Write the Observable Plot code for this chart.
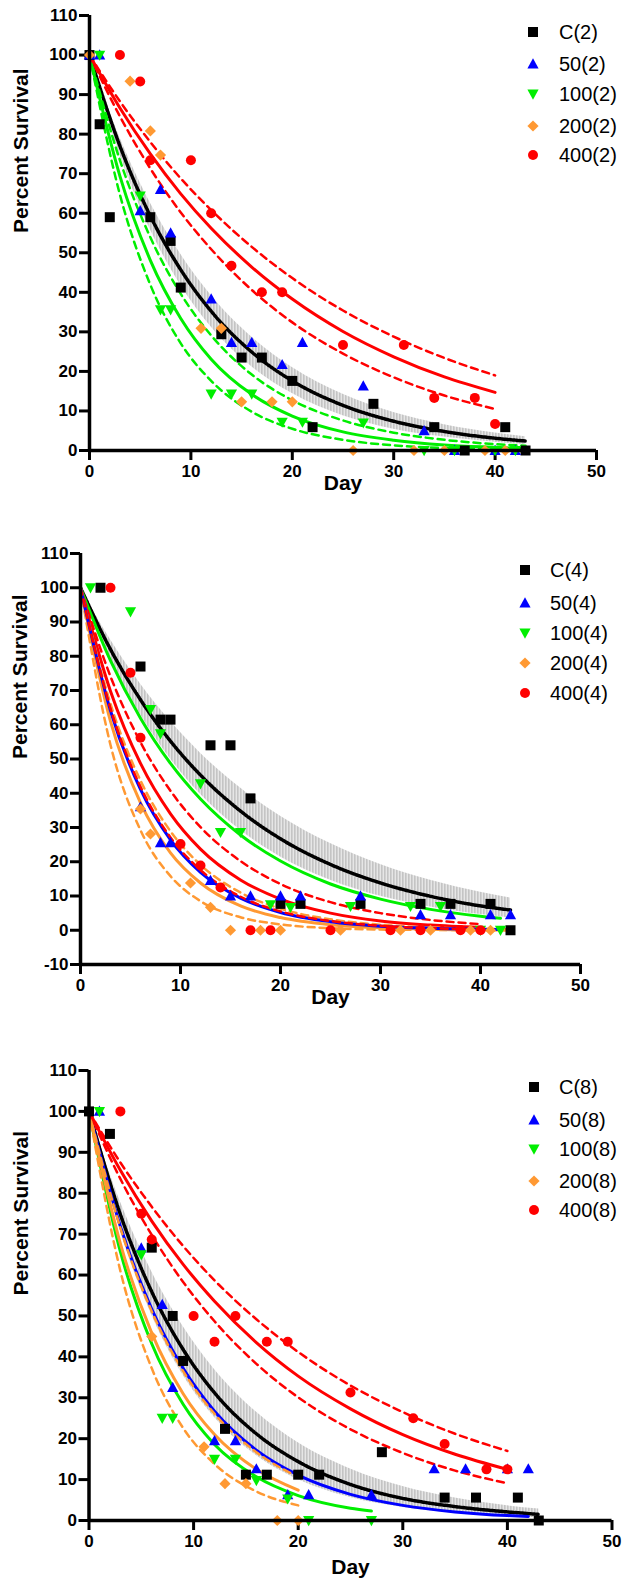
<!DOCTYPE html>
<html><head><meta charset="utf-8">
<script src="https://cdn.jsdelivr.net/npm/d3@7"></script>
<script src="https://cdn.jsdelivr.net/npm/@observablehq/plot@0.6"></script>
<style>
html,body{margin:0;padding:0;background:#fff;}
#wrap{position:relative;width:622px;}
#wrap svg.pl{display:block;}
svg.pl [aria-label$="tick"] path, svg.pl .tick line{stroke-width:3px;}
.lg{position:absolute;left:0;top:0;font-family:Arial,"Liberation Sans",sans-serif;font-size:20px;color:#000;}
.lg .row{position:absolute;height:0;}
.lg .row svg{position:absolute;top:-8px;}
.lg .row span{position:absolute;top:0;transform:translateY(-50%);line-height:1;white-space:nowrap;}
</style>
</head><body><div id="wrap"></div>
<script>
// ---------- series ----------
const seriesKeys = ["C", "50", "100", "200", "400"];
const seriesColors = ["#000000", "#0000ff", "#00ee00", "#ff9933", "#ff0000"];
const seriesSymbols = ["square", "up", "down", "diamond", "circle"];
const xTicks = [0, 10, 20, 30, 40, 50];
const yTicksA = [0, 10, 20, 30, 40, 50, 60, 70, 80, 90, 100, 110];
const yTicksB = [-10, 0, 10, 20, 30, 40, 50, 60, 70, 80, 90, 100, 110];

// ---------- panel 1 (2) data points [day, %] ----------
const p1_C = [[0,100],[1,82.5],[2,59],[6,59],[8,53],[9,41.2],[13,29.4],[15,23.5],[17,23.5],[20,17.6],[22,5.9],[28,11.8],[34,5.9],[37,0],[41,5.9],[43,0]];
const p1_50 = [[0,100],[1,100],[5,60.6],[7,66],[8,55],[12,38.3],[14,27.3],[16,27.3],[19,21.7],[21,27.3],[27,16.3],[33,5],[36,0],[40,0],[42,0]];
const p1_100 = [[1,100],[5,64.4],[7,35.6],[8,35.6],[12,14.3],[14,14.3],[16,14.3],[19,7.2],[21,7.2],[27,7],[33,0],[36,0],[40,0],[42,0]];
const p1_200 = [[0,100],[4,93.4],[6,80.8],[7,74.7],[11,30.9],[13,30.9],[15,12.3],[18,12.3],[20,12.3],[26,0],[32,0],[35,0],[39,0],[41,0]];
const p1_400 = [[3,100],[5,93.3],[6,73.4],[10,73.4],[12,60],[14,46.7],[17,40],[19,40],[25,26.7],[31,26.7],[34,13.3],[38,13.3],[40,6.7]];

// ---------- panel 2 (4) ----------
const p2_C = [[2,100],[6,77],[8,61.5],[9,61.5],[13,54],[15,54],[17,38.5],[20,7.7],[22,7.7],[28,7.7],[34,7.7],[37,7.7],[41,7.7],[43,0]];
const p2_50 = [[6,36],[8,25.5],[9,25.5],[13,14.5],[15,10],[17,10],[20,10],[22,10],[28,10],[34,4.5],[37,4.5],[41,4.5],[43,4.5]];
const p2_100 = [[1,100],[5,93],[7,64.5],[8,57.4],[12,42.8],[14,28.6],[16,28.6],[19,7.5],[21,6.7],[27,7],[33,7],[36,7],[40,0],[42,0]];
const p2_200 = [[6,35.4],[7,28.1],[11,13.8],[13,6.7],[15,0],[18,0],[20,0],[26,0],[32,0],[35,0],[39,0],[41,0]];
const p2_400 = [[3,100],[5,75.2],[6,56.2],[10,25.2],[12,18.9],[14,12.5],[17,0],[19,0],[25,0],[31,0],[34,0],[38,0],[40,0]];

// ---------- panel 3 (8) ----------
const p3_C = [[0,100],[2,94.5],[6,66.7],[8,50],[9,39],[13,22.4],[15,11.2],[17,11.2],[20,11.2],[22,11.2],[28,16.7],[34,5.6],[37,5.6],[41,5.6],[43,0]];
const p3_50 = [[1,100],[5,66.6],[7,52.8],[8,32.5],[12,19.5],[14,19.5],[16,12.6],[19,6.3],[21,6.3],[27,6.3],[33,12.6],[36,12.6],[40,12.6],[42,12.6]];
const p3_100 = [[1,100],[5,65],[7,25],[8,25],[12,15],[14,15],[16,9.8],[19,5.3],[21,0],[27,0]];
const p3_200 = [[6,45],[11,18],[13,9],[15,9],[18,0],[20,0]];
const p3_400 = [[3,100],[5,75],[6,68.7],[10,50],[12,43.7],[14,50],[17,43.7],[19,43.7],[25,31.3],[31,25],[34,18.7],[38,12.5],[40,12.5]];

// ---------- fitted curves, read at these days ----------
const fd43 = [0,3,6,9,12,16,20,25,30,35,40,43];
const fd42 = [0,3,6,9,12,16,20,25,30,35,40,42];
const fd40 = [0,3,6,9,12,16,20,25,30,35,40];
const fd27 = [0,3,6,9,12,16,20,25,27];
const fd20 = [0,3,6,9,12,16,20];

const p1_fitC = [100,77.0,59.3,45.7,35.2,24.9,17.6,11.4,7.4,4.8,3.1,2.4];
const p1_bandHi = [100,79.1,62.6,49.6,39.2,28.7,21.0,14.2,9.6,6.5,4.4,3.5];
const p1_bandLo = [100,74.8,55.9,41.8,31.2,21.2,14.4,8.8,5.4,3.4,2.1,1.5];
const p1_fit100 = [100,69.4,48.1,33.4,23.1,14.2,8.7,4.7,2.6,1.4,0.8,0.5];
const p1_fit100Hi = [100,73.4,53.9,39.6,29.1,19.2,12.7,7.6,4.5,2.7,1.6,1.2];
const p1_fit100Lo = [100,64.7,41.9,27.1,17.6,9.8,5.5,2.7,1.3,0.6,0.3,0.2];
const p1_fit400 = [100,86.6,75.0,64.9,56.2,46.4,38.3,30.1,23.7,18.6,14.7];
const p1_fit400Hi = [100,88.3,78.0,68.8,60.8,51.5,43.6,35.4,28.8,23.4,19.0];
const p1_fit400Lo = [100,84.5,71.3,60.2,50.9,40.6,32.4,24.5,18.5,13.9,10.5];

const p2_fitC = [100,82.0,67.3,55.2,45.3,34.8,26.7,19.2,13.8,9.9,7.1,5.9];
const p2_bandHi = [100,84.8,71.9,61.0,51.7,41.5,33.3,25.3,19.2,14.6,11.1,9.4];
const p2_bandLo = [100,79.4,63.0,50.0,39.7,29.2,21.4,14.6,9.9,6.8,4.6,3.6];
const p2_fit50 = [100,64.1,41.1,26.4,16.9,9.4,5.2,2.5,1.2,0.6,0.3,0.2];
const p2_fit100 = [100,78.7,61.9,48.7,38.3,27.8,20.2,13.5,9.1,6.1,4.1,3.5];
const p2_fit200 = [100,61.0,37.2,22.6,13.8,7.1,3.7,1.6,0.7,0.3,0.1,0.1];
const p2_fit200Hi = [100,66.1,43.7,28.9,19.1,11.0,6.3,3.2,1.6,0.8,0.4,0.3];
const p2_fit200Lo = [100,54.1,29.2,15.8,8.5,3.8,1.7,0.6,0.2,0.1,0,0];
const p2_fit400 = [100,69.8,48.7,34.0,23.7,14.7,9.1,5.0,2.7,1.5,0.8];
const p2_fit400Hi = [100,74.1,54.9,40.7,30.1,20.2,13.5,8.2,5.0,3.0,1.8];
const p2_fit400Lo = [100,64.7,41.9,27.1,17.6,9.8,5.5,2.7,1.3,0.6,0.3];

const p3_fitC = [100,74.8,55.9,41.8,31.2,21.2,14.4,8.8,5.4,3.4,2.1,1.5];
const p3_bandHi = [100,77.9,60.8,47.4,36.9,26.5,19.0,12.6,8.3,5.5,3.6,2.8];
const p3_bandLo = [100,70.8,50.2,35.5,25.2,15.9,10.0,5.6,3.2,1.8,1.0,0.7];
const p3_fit50 = [100,71.9,51.7,37.2,26.7,17.2,11.1,6.4,3.7,2.1,1.2,1.0];
const p3_fit100 = [100,65.7,43.2,28.4,18.6,10.7,6.1,3.0,2.3];
const p3_fit200 = [100,67.7,45.8,31.0,21.0,12.5,7.4];
const p3_fit200Hi = [100,71.5,51.1,36.5,26.1,16.7,10.6];
const p3_fit200Lo = [100,61.0,37.2,22.6,13.8,7.1,3.7];
const p3_fit400 = [100,85.6,73.2,62.6,53.6,43.5,35.3,27.3,21.0,16.2,12.5];
const p3_fit400Hi = [100,87.5,76.7,67.1,58.7,49.2,41.2,33.0,26.5,21.2,17.0];
const p3_fit400Lo = [100,83.5,69.8,58.3,48.7,38.3,30.1,22.3,16.5,12.2,9.1];

// ---------- symbols ----------
function sc(size){ return Math.sqrt(size / Math.PI) / 5; }
const SYM = {
  square: {draw(c, size){ const s = sc(size); c.moveTo(-5*s,-5*s); c.lineTo(5*s,-5*s); c.lineTo(5*s,5*s); c.lineTo(-5*s,5*s); c.closePath(); }},
  up: {draw(c, size){ const s = sc(size); c.moveTo(0,-5.8*s); c.lineTo(5.6*s,4.4*s); c.lineTo(-5.6*s,4.4*s); c.closePath(); }},
  down: {draw(c, size){ const s = sc(size); c.moveTo(0,5.8*s); c.lineTo(5.6*s,-4.4*s); c.lineTo(-5.6*s,-4.4*s); c.closePath(); }},
  diamond: {draw(c, size){ const s = sc(size); c.moveTo(0,-5.6*s); c.lineTo(5.6*s,0); c.lineTo(0,5.6*s); c.lineTo(-5.6*s,0); c.closePath(); }},
  circle: {draw(c, size){ const s = sc(size); c.moveTo(5*s,0); c.arc(0,0,5*s,0,2*Math.PI); c.closePath(); }}
};

const zip = (days, vals) => vals.map((v, i) => ({x: days[i], y: v}));
const zipBand = (days, lo, hi) => lo.map((v, i) => ({x: days[i], lo: v, hi: hi[i]}));
const FONT = "Arial, 'Liberation Sans', sans-serif";
let panelIndex = 0;

function makePanel(o) {
  const hatchId = "hatch" + (panelIndex++);
  const marks = [];
  marks.push(Plot.areaY(zipBand(fd43, o.bandLo, o.bandHi), {x: "x", y1: "lo", y2: "hi", fill: `url(#${hatchId})`, curve: "monotone-x"}));
  for (const f of o.fits) {
    marks.push(Plot.line(zip(f.days, f.vals), {
      x: "x", y: "y", stroke: f.color,
      strokeWidth: f.kind === "dash" ? 2.5 : f.kind === "dot" ? 3.5 : 3,
      strokeDasharray: f.kind === "dash" ? "7,5" : f.kind === "dot" ? "2,1.5" : null,
      curve: "monotone-x"
    }));
  }
  o.pts.forEach((p, i) => {
    marks.push(Plot.dot(p, {x: d => d[0], y: d => d[1], symbol: SYM[seriesSymbols[i]], fill: seriesColors[i], stroke: "none", r: 5}));
  });
  marks.push(Plot.ruleY([o.ydom[0]], {x1: 0, x2: 50, strokeWidth: 3.5, stroke: "black"}));
  marks.push(Plot.ruleX([0], {y1: o.ydom[0], y2: o.ydom[1], strokeWidth: 3.5, stroke: "black"}));
  marks.push(Plot.text(["Percent Survival"], {frameAnchor: "left", dx: o.ylabDx, rotate: -90, fontSize: 21, fontWeight: "bold", fill: "black"}));
  marks.push(Plot.text(["Day"], {frameAnchor: "bottom", dy: o.dayDy, fontSize: 21, fontWeight: "bold", fill: "black"}));
  const svg = Plot.plot({
    width: 622, height: o.height,
    marginTop: o.mt, marginBottom: o.mb, marginLeft: o.ml, marginRight: o.mr,
    x: {domain: [0, 50], ticks: xTicks, tickSize: 10, tickPadding: 4, label: null, tickFormat: d => String(d)},
    y: {domain: o.ydom, ticks: o.yticks, tickSize: 10, tickPadding: 2, label: null, tickFormat: d => String(d)},
    style: {fontFamily: FONT, fontSize: "17px", fontWeight: "bold", color: "black", background: "white", overflow: "visible"},
    marks
  });
  svg.classList.add("pl");
  // vertical-hatch pattern used by the confidence band
  const defs = d3.select(svg).insert("defs", ":first-child");
  const pat = defs.append("pattern").attr("id", hatchId).attr("patternUnits", "userSpaceOnUse").attr("width", 3).attr("height", 12);
  pat.append("rect").attr("width", 3).attr("height", 12).attr("fill", "#e6e6e6");
  pat.append("rect").attr("width", 1.6).attr("height", 12).attr("fill", "#c4c4c4");
  return svg;
}

const wrap = document.getElementById("wrap");

wrap.appendChild(makePanel({
  height: 520, mt: 15, mb: 70, ml: 89, mr: 26, ydom: [0, 110], yticks: yTicksA, ylabDx: -68, dayDy: 39,
  pts: [p1_C, p1_50, p1_100, p1_200, p1_400],
  bandLo: p1_bandLo, bandHi: p1_bandHi,
  fits: [
    {days: fd43, vals: p1_fitC, color: "#000", kind: "dot"},
    {days: fd43, vals: p1_fit100, color: seriesColors[2], kind: "solid"},
    {days: fd43, vals: p1_fit100Hi, color: seriesColors[2], kind: "dash"},
    {days: fd43, vals: p1_fit100Lo, color: seriesColors[2], kind: "dash"},
    {days: fd40, vals: p1_fit400, color: seriesColors[4], kind: "solid"},
    {days: fd40, vals: p1_fit400Hi, color: seriesColors[4], kind: "dash"},
    {days: fd40, vals: p1_fit400Lo, color: seriesColors[4], kind: "dash"}
  ]
}));

wrap.appendChild(makePanel({
  height: 520, mt: 33, mb: 76, ml: 80, mr: 42, ydom: [-10, 110], yticks: yTicksB, ylabDx: -60, dayDy: 39,
  pts: [p2_C, p2_50, p2_100, p2_200, p2_400],
  bandLo: p2_bandLo, bandHi: p2_bandHi,
  fits: [
    {days: fd43, vals: p2_fitC, color: "#000", kind: "dot"},
    {days: fd42, vals: p2_fit100, color: seriesColors[2], kind: "solid"},
    {days: fd40, vals: p2_fit400, color: seriesColors[4], kind: "solid"},
    {days: fd40, vals: p2_fit400Hi, color: seriesColors[4], kind: "dash"},
    {days: fd43, vals: p2_fit200, color: seriesColors[3], kind: "solid"},
    {days: fd43, vals: p2_fit200Hi, color: seriesColors[3], kind: "dash"},
    {days: fd43, vals: p2_fit200Lo, color: seriesColors[3], kind: "dash"},
    {days: fd42, vals: p2_fit50, color: seriesColors[1], kind: "solid"},
    {days: fd40, vals: p2_fit400Lo, color: seriesColors[4], kind: "dash"}
  ]
}));

wrap.appendChild(makePanel({
  height: 547, mt: 30, mb: 67, ml: 88.5, mr: 10.5, ydom: [0, 110], yticks: yTicksA, ylabDx: -68, dayDy: 53,
  pts: [p3_C, p3_50, p3_100, p3_200, p3_400],
  bandLo: p3_bandLo, bandHi: p3_bandHi,
  fits: [
    {days: fd43, vals: p3_fitC, color: "#000", kind: "dot"},
    {days: fd42, vals: p3_fit50, color: seriesColors[1], kind: "solid"},
    {days: fd27, vals: p3_fit100, color: seriesColors[2], kind: "solid"},
    {days: fd20, vals: p3_fit200, color: seriesColors[3], kind: "solid"},
    {days: fd20, vals: p3_fit200Hi, color: seriesColors[3], kind: "dash"},
    {days: fd20, vals: p3_fit200Lo, color: seriesColors[3], kind: "dash"},
    {days: fd40, vals: p3_fit400, color: seriesColors[4], kind: "solid"},
    {days: fd40, vals: p3_fit400Hi, color: seriesColors[4], kind: "dash"},
    {days: fd40, vals: p3_fit400Lo, color: seriesColors[4], kind: "dash"}
  ]
}));

// ---------- legends ----------
function legend(suffix, symX, textX, rows) {
  const lg = document.createElement("div");
  lg.className = "lg";
  seriesKeys.forEach((k, i) => {
    const row = document.createElement("div");
    row.className = "row";
    row.style.top = rows[i] + "px";
    row.style.left = "0px";
    const path = d3.path();
    SYM[seriesSymbols[i]].draw(path, Math.PI * 25);
    const s = document.createElementNS("http://www.w3.org/2000/svg", "svg");
    s.setAttribute("width", 16); s.setAttribute("height", 16);
    s.setAttribute("viewBox", "-8 -8 16 16");
    s.style.left = (symX - 8) + "px";
    const p = document.createElementNS("http://www.w3.org/2000/svg", "path");
    p.setAttribute("d", path.toString()); p.setAttribute("fill", seriesColors[i]);
    s.appendChild(p);
    row.appendChild(s);
    const t = document.createElement("span");
    t.textContent = k + "(" + suffix + ")";
    t.style.left = textX + "px";
    row.appendChild(t);
    lg.appendChild(row);
  });
  wrap.appendChild(lg);
}
legend("2", 533, 559, [32, 64, 94, 126, 155]);
legend("4", 525, 550, [570, 603, 633, 663, 693]);
legend("8", 534, 559, [1087, 1120, 1149, 1181, 1210]);
</script>
</body></html>
